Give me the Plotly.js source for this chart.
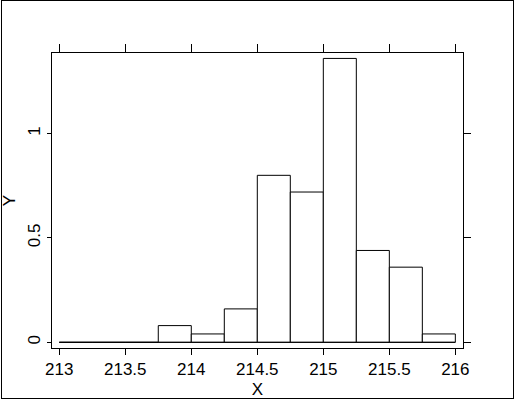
<!DOCTYPE html>
<html>
<head>
<meta charset="utf-8">
<script src="https://cdn.plot.ly/plotly-3.0.1.min.js"></script>
<style>
  html, body { margin: 0; padding: 0; background: #fff; }
  #plot { position: absolute; left: 0; top: 0; width: 515px; height: 400px; }
  #frame { position: absolute; left: 1px; top: 0; width: 513px; height: 399px;
           border: 1px solid #000; box-sizing: border-box; pointer-events: none; z-index: 10; }
</style>
</head>
<body>
<div id="plot"></div>
<div id="frame"></div>
<script>
// Histogram bins (left edges), bin width and density values
const binStarts = [213, 213.25, 213.5, 213.75, 214, 214.25, 214.5, 214.75, 215, 215.25, 215.5, 215.75];
const binWidth = 0.25;
const density = [0, 0, 0, 0.08, 0.04, 0.16, 0.80, 0.72, 1.36, 0.44, 0.36, 0.04];
const xTicks = [213, 213.5, 214, 214.5, 215, 215.5, 216];
const xTickLabels = ['213', '213.5', '214', '214.5', '215', '215.5', '216'];
const yTicks = [0, 0.5, 1];
const yTickLabels = ['0', '0.5', '1'];

const xRange = [212.945, 216.058];
const yRange = [-0.0273, 1.386];
const font = { family: 'Liberation Sans, Arial, sans-serif', size: 17, color: '#000' };

const bars = {
  type: 'bar',
  x: binStarts,
  y: density,
  width: binStarts.map(() => binWidth),
  offset: 0,
  marker: { color: '#fff', line: { color: '#000', width: 1 } },
  hoverinfo: 'skip',
  xaxis: 'x', yaxis: 'y'
};

const lastEdge = binStarts[binStarts.length - 1] + binWidth;
const baseline = {
  type: 'scatter',
  mode: 'lines',
  x: [binStarts[0], lastEdge],
  y: [0, 0],
  line: { color: '#000', width: 1 },
  hoverinfo: 'skip',
  xaxis: 'x2', yaxis: 'y2'
};

const layout = {
  width: 515, height: 400,
  margin: { l: 52, r: 52, t: 53, b: 52 },
  paper_bgcolor: '#fff', plot_bgcolor: '#fff',
  showlegend: false,
  font: font,
  bargap: 0,
  xaxis: {
    range: xRange, tickvals: xTicks, ticktext: xTickLabels,
    ticks: 'outside', ticklen: 6, tickwidth: 1, tickcolor: '#000',
    showline: true, mirror: true, linecolor: '#000', linewidth: 1,
    showgrid: false, zeroline: false, tickfont: font,
    title: { text: 'X', font: font, standoff: 4 }
  },
  yaxis: {
    range: yRange, tickvals: yTicks, ticktext: yTickLabels,
    ticks: 'outside', ticklen: 4, tickwidth: 1, tickcolor: '#000',
    showline: true, mirror: true, linecolor: '#000', linewidth: 1,
    showgrid: false, zeroline: false, tickfont: font, tickangle: -90,
    title: { text: 'Y', font: font, standoff: 5 }
  },
  xaxis2: {
    overlaying: 'x', side: 'top', range: xRange, tickvals: xTicks,
    showticklabels: false, ticks: 'outside', ticklen: 8, tickwidth: 1, tickcolor: '#000',
    showline: false, showgrid: false, zeroline: false
  },
  yaxis2: {
    overlaying: 'y', side: 'right', range: yRange, tickvals: yTicks,
    showticklabels: false, ticks: 'outside', ticklen: 7, tickwidth: 1, tickcolor: '#000',
    showline: false, showgrid: false, zeroline: false
  }
};

Plotly.newPlot('plot', [bars, baseline], layout, { staticPlot: true, displayModeBar: false });
</script>
</body>
</html>
